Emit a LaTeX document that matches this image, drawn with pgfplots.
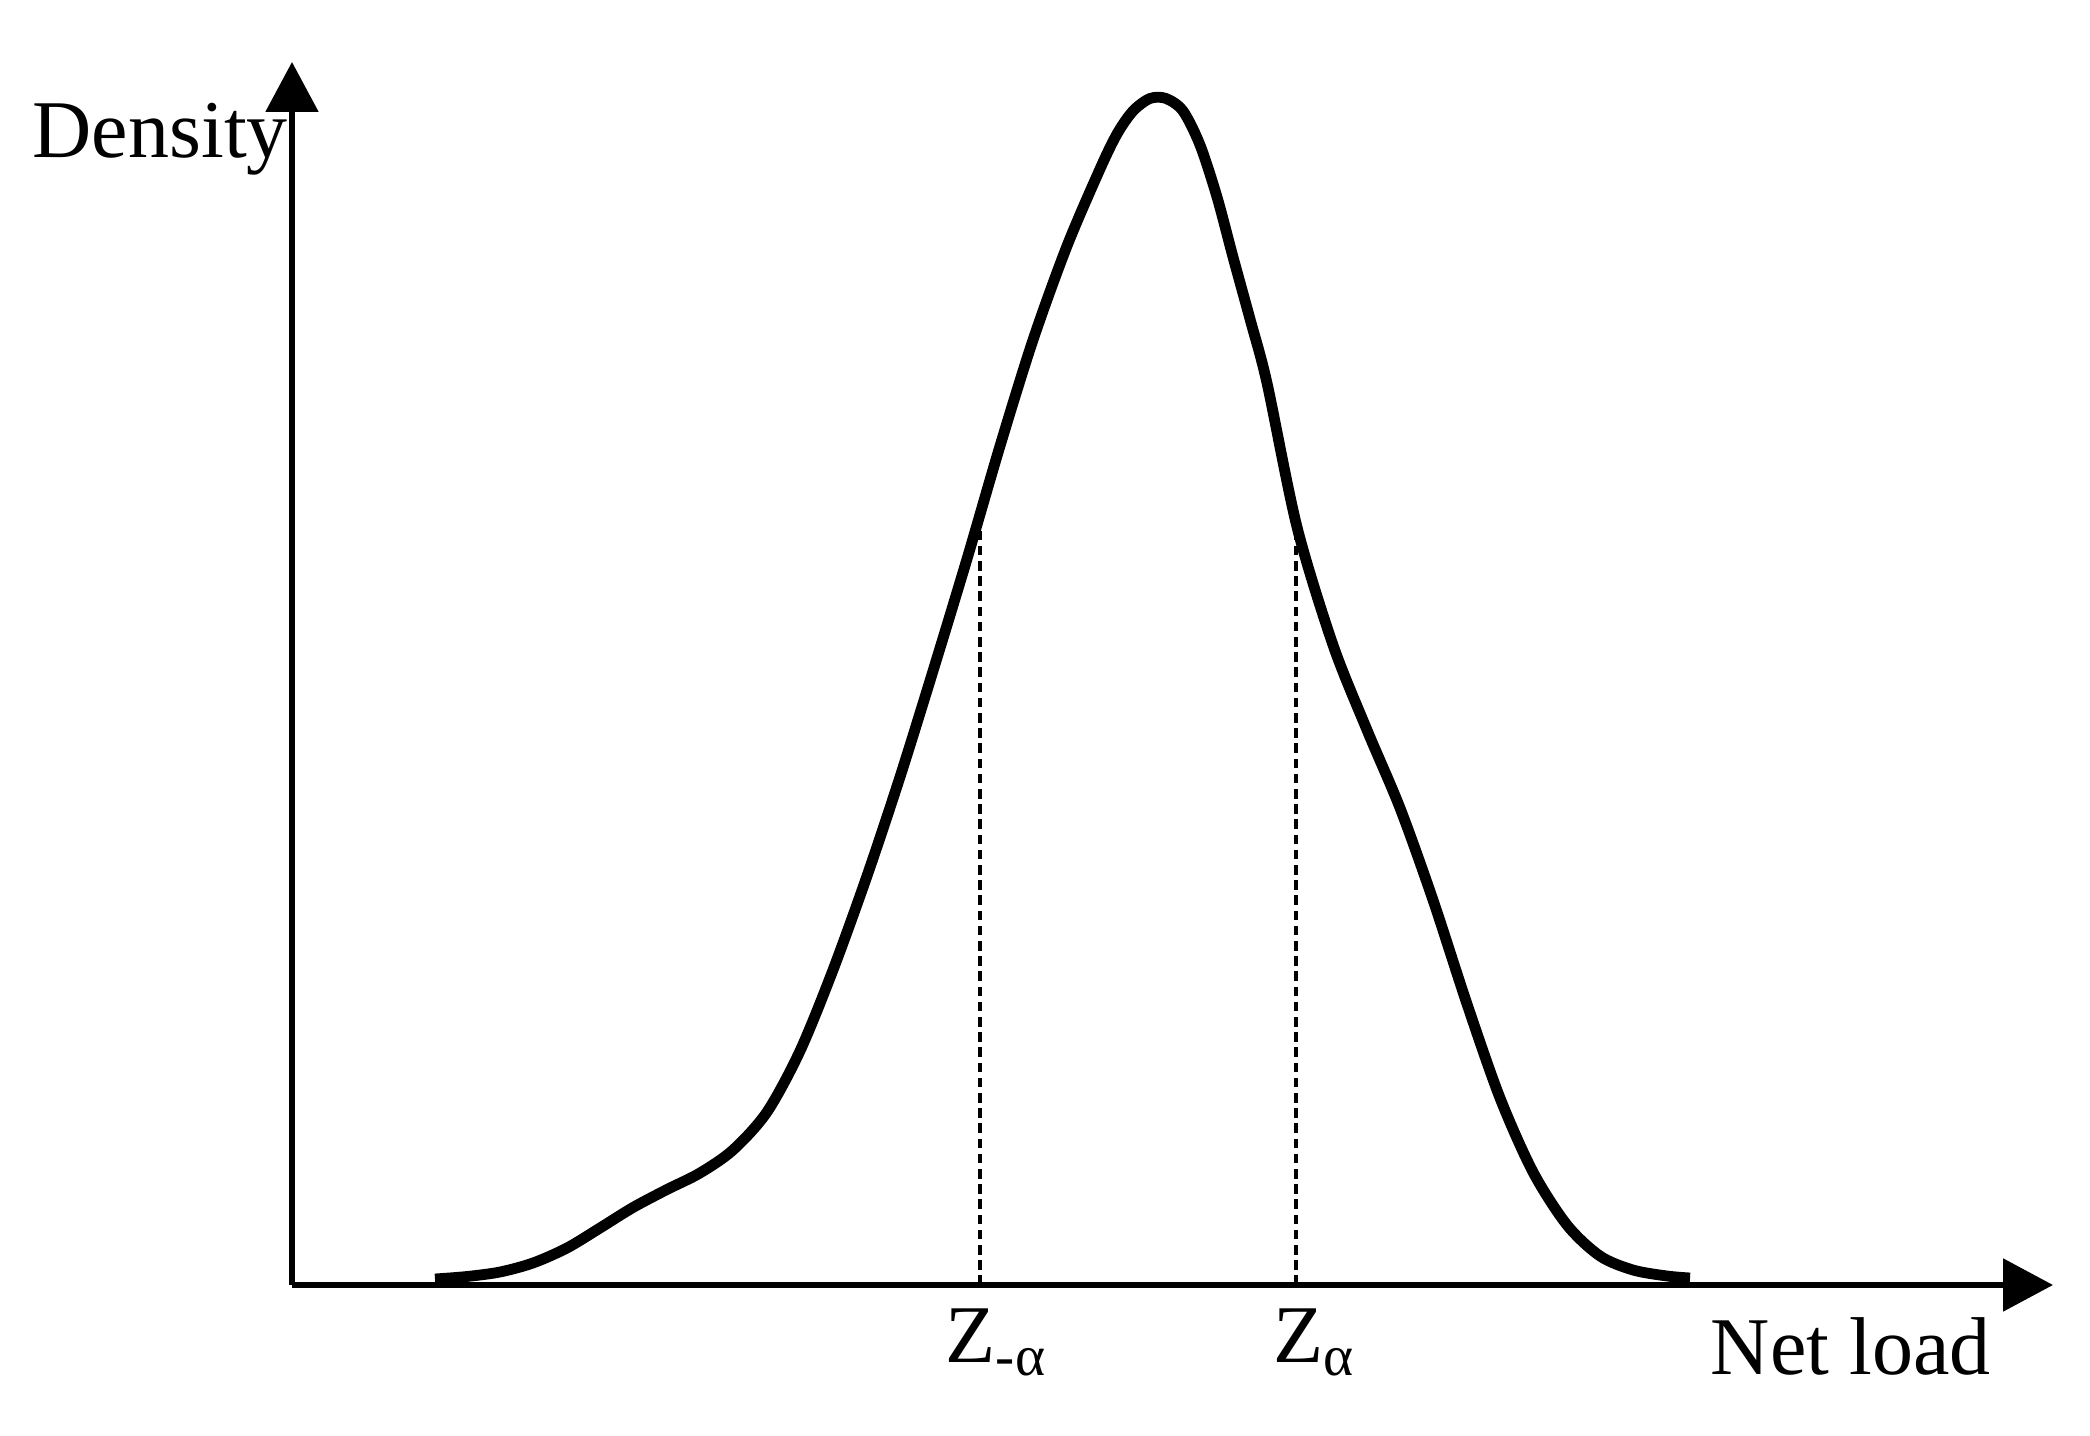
\documentclass[border=0pt]{standalone}
\usepackage{fontspec}
\setmainfont{Liberation Serif}
\usepackage{pgfplots}
\pgfplotsset{compat=1.18}
\usetikzlibrary{arrows.meta}

\begin{document}
\begin{tikzpicture}
\begin{axis}[
  x=0.25pt,y=0.25pt,
  xmin=0,xmax=1761,ymin=0,ymax=1223,
  enlargelimits=false,
  axis lines=left,
  axis line style={line width=1.4pt,-{Triangle[length=12.5pt,width=13pt]}},
  xtick=\empty,ytick=\empty,
  clip=false
]
% kernel density of net load
\addplot[black,line width=2.7pt,smooth] coordinates {
  (143,6) (175,8.5) (208,13) (241,22) (275,37) (308,57) (341,77.5)
  (375,95.5) (408,112) (441,135) (475,173) (508,234) (541,315)
  (575,409) (608,508) (641,614) (675,726) (708,839) (741,945)
  (775,1039) (808,1116) (825,1151) (841,1174) (858,1186.5) (874,1186.5)
  (891,1174) (908,1140) (925,1088) (941,1028) (958,966)
  (975,902) (1005,758) (1041,640) (1075,555) (1108,477)
  (1141,385) (1175,281) (1208,187) (1241,113) (1275,60) (1308,29)
  (1341,15) (1375,9) (1398,7)
};
% quantile markers
\addplot[black,line width=1.2pt,dash pattern=on 2.4pt off 1.4pt] coordinates {(688,0) (688,770)};
\addplot[black,line width=1.2pt,dash pattern=on 2.4pt off 1.4pt] coordinates {(1004,0) (1004,758)};

\path (axis cs:-292,-151) rectangle (axis cs:1798,1285);
\node[anchor=base west,inner sep=0pt,font=\fontsize{20.5}{24}\selectfont] at (axis cs:-260,1127) {Density};
\node[anchor=base west,inner sep=0pt,font=\fontsize{20.5}{24}\selectfont] at (axis cs:1418,-90) {Net load};
\node[anchor=base west,inner sep=0pt,font=\fontsize{20.5}{24}\selectfont] at (axis cs:653,-78) {Z\textsubscript{-α}};
\node[anchor=base west,inner sep=0pt,font=\fontsize{20.5}{24}\selectfont] at (axis cs:981,-78) {Z\textsubscript{α}};
\end{axis}
\end{tikzpicture}
\end{document}
